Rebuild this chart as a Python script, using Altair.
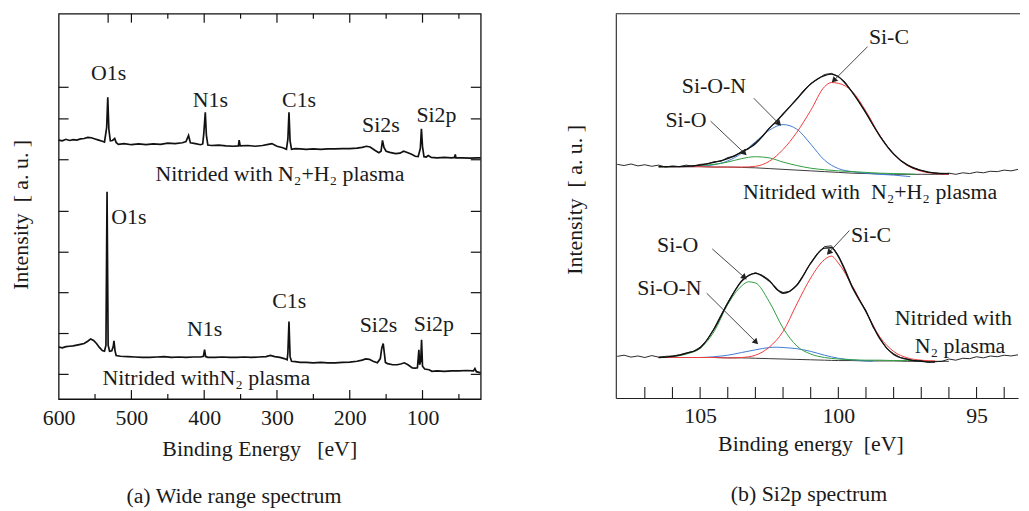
import altair as alt
import pandas as pd

FONT = "Liberation Serif"
TXT = "#1a1a1a"
FS = 22
NB = "\u00a0"

# ---------------- (a) wide range spectrum ----------------
wide_n2h2_e = [600, 595, 590, 585, 580, 575, 570, 565, 560, 555, 550, 545, 540, 537, 534, 532.5, 531, 529,
               526, 523, 521, 518, 510, 500, 490, 480, 470, 460, 450, 440, 430, 425, 421.5, 419, 412, 405,
               402, 400.5, 398.5, 397, 395, 390, 380, 370, 360, 353, 352, 350.5, 340, 330, 320, 312, 307,
               300, 292, 287, 285, 283.5, 282, 280, 275, 268, 260, 250, 240, 230, 220, 210, 200, 190, 183,
               177, 172, 165, 160, 157, 155, 153, 150, 145, 137, 131, 126, 121, 115, 110, 106, 103, 101.5,
               100, 98, 95, 92, 88, 80, 70, 60, 56, 55, 54, 45, 35, 25, 20]
wide_n2h2_i = [67.2, 67.0, 67.4, 67.1, 67.3, 67.2, 67.5, 67.6, 67.9, 67.8, 67.5, 67.2, 66.9, 66.7, 70.5, 78.3, 70.0, 67.0,
               67.1, 67.6, 66.6, 66.1, 66.3, 66.0, 66.2, 66.0, 66.2, 66.1, 66.4, 66.3, 66.5, 66.8, 68.4, 66.5, 66.3, 66.0,
               66.2, 69.0, 74.4, 68.5, 65.9, 65.8, 65.9, 65.7, 65.6, 65.7, 67.2, 65.7, 65.8, 65.6, 65.8, 66.1, 66.3,
               65.6, 65.2, 64.8, 67.5, 74.4, 67.0, 64.8, 65.0, 64.9, 64.8, 64.9, 64.8, 64.9, 64.9, 65.0, 65.0, 65.1, 65.3,
               65.6, 65.4, 64.5, 63.9, 64.3, 67.1, 65.3, 64.3, 64.0, 63.7, 63.8, 64.3, 64.0, 63.5, 63.0, 62.9, 65.0, 70.1,
               65.5, 62.9, 62.8, 63.2, 62.7, 62.6, 62.7, 62.6, 62.7, 63.5, 62.6, 62.6, 62.5, 62.6, 62.6]

wide_n2_e = [600, 595, 590, 585, 580, 575, 570, 565, 560, 556, 552, 548, 544, 540, 537, 535, 533.5, 532,
             530, 527, 525, 524, 522.5, 521, 515, 505, 495, 485, 475, 465, 455, 445, 435, 425, 415, 405,
             401, 399.5, 398, 395, 385, 375, 365, 355, 345, 335, 325, 315, 309, 303, 296, 290, 286, 285,
             283.5, 282, 280, 275, 268, 260, 250, 240, 230, 220, 210, 200, 190, 183, 178, 173, 168, 162,
             158, 156, 154, 152.5, 151, 148, 141, 135, 130, 125, 120, 114, 110, 107, 105, 104, 102.5,
             101.3, 100, 97, 91, 87, 80, 70, 60, 50, 40, 30, 28, 26, 20]
wide_n2_i = [13.5, 13.3, 13.6, 13.7, 13.8, 14.0, 14.2, 14.4, 15.0, 15.6, 15.2, 14.4, 13.4, 12.6, 12.4, 14.0, 53.8, 14.0,
             12.4, 12.5, 13.6, 15.1, 12.5, 11.3, 11.1, 11.0, 10.9, 10.8, 10.8, 10.9, 11.0, 10.8, 10.9, 10.8, 10.9, 10.9,
             11.1, 12.8, 11.0, 10.8, 10.8, 10.9, 10.8, 10.8, 10.9, 10.8, 10.9, 11.0, 11.3, 11.0, 10.8, 10.5, 10.2, 12.0,
             20.1, 11.0, 9.8, 9.7, 9.5, 9.5, 9.4, 9.5, 9.4, 9.4, 9.5, 9.6, 9.8, 10.1, 10.4, 10.3, 9.8, 9.4,
             10.5, 13.2, 14.4, 12.0, 9.5, 9.2, 8.9, 8.9, 9.1, 9.4, 8.9, 8.1, 8.0, 8.1, 12.8, 8.9, 9.8,
             15.4, 8.5, 7.8, 7.6, 7.2, 7.3, 7.2, 7.3, 7.3, 7.4, 7.3, 7.9, 7.1, 6.8]

wide_x_labels = [600, 500, 400, 300, 200, 100]
wide_bottom_major = [500, 400, 300, 200, 100]
wide_bottom_minor = [550, 450, 350, 250, 150, 50]
wide_top_major = [532, 500, 400, 300, 200, 100]
wide_top_minor = [450, 350, 250, 150, 50]
wide_side_ticks = [80.9, 72.7, 62.1, 48.7, 38.1, 27.6, 17.0, 6.4]

wide_lbl_text = ["O1s", "N1s", "C1s", "Si2s", "Si2p", "N1s", "C1s", "Si2s", "Si2p"]
wide_lbl_e = [531.4, 391.4, 269.6, 157.2, 80.9, 399.5, 283.2, 160.5, 84.5]
wide_lbl_v = [84.5, 77.7, 77.5, 71.2, 73.8, 18.2, 25.3, 19.2, 19.4]
wide_note_text = ["Nitrided with N\u2082+H\u2082 plasma", "Nitrided withN\u2082 plasma"]
wide_note_e = [295.9, 397.1]
wide_note_v = [58.3, 5.5]
wide_left_text = ["O1s"]
wide_left_e = [527.7]
wide_left_v = [47.2]

# ---------------- (b) Si2p spectrum ----------------
raw_e = [round(108.0 - 0.25 * k, 2) for k in range(59)]
raw_n2h2 = [61.1, 60.8, 61.2, 60.7, 61.0, 60.6, 60.9, 60.4, 60.7, 60.5, 60.9, 60.6, 61.1, 61.2, 61.8, 61.9,
            62.9, 63.2, 64.5, 65.2, 66.8, 68.3, 70.6, 72.1, 74.4, 76.3, 78.3, 80.5, 82.2, 83.4, 84.6, 84.9,
            84.1, 82.6, 80.0, 77.5, 74.6, 71.4, 68.6, 66.0, 63.9, 62.1, 61.0, 60.1, 59.5, 59.0, 58.9, 58.6,
            58.8, 58.5, 58.9, 58.7, 59.1, 58.9, 59.3, 59.2, 59.6, 59.4, 59.8]
raw_n2 = [10.9, 11.2, 10.7, 11.0, 10.6, 11.1, 10.7, 10.9, 11.0, 11.3, 11.8, 12.2, 13.3, 15.2, 18.1, 21.6,
          25.0, 28.1, 30.8, 32.0, 32.8, 32.1, 30.9, 28.4, 27.6, 27.9, 29.6, 32.3, 35.4, 37.9, 39.6, 39.8,
          37.3, 33.6, 29.2, 25.8, 22.9, 18.6, 15.7, 12.9, 11.6, 10.6, 10.2, 9.7, 9.8, 9.3, 9.5, 9.6,
          10.2, 9.9, 10.4, 10.3, 10.8, 10.5, 11.0, 10.8, 11.2, 11.0, 11.3]

# N2+H2 plasma (upper) fit
top_bg_e = [106.5, 106, 105.5, 105, 104.5, 104, 103.5, 103, 102.5, 102, 101.5, 101, 100.5, 100, 99.5, 99, 98.5, 98, 97.5, 97, 96.5, 96]
top_bg_v = [60.5, 60.5, 60.5, 60.5, 60.4, 60.4, 60.3, 60.2, 60.0, 59.8, 59.6, 59.4, 59.2, 59.0, 58.8, 58.7, 58.6, 58.5, 58.5, 58.5, 58.5, 58.5]
top_sic_e = [106.5, 106, 105.5, 105, 104.5, 104, 103.5, 103, 102.5, 102, 101.5, 101, 100.5, 100.25, 100, 99.5, 99, 98.5, 98, 97.5, 97, 96.5, 96]
top_sic_v = [60.5, 60.5, 60.5, 60.5, 60.4, 60.4, 60.4, 60.6, 61.9, 65.0, 69.5, 75.2, 81.4, 82.5, 82.3, 80.2, 75.0, 68.7, 63.8, 60.8, 59.3, 58.7, 58.5]
top_sion_e = [106.5, 106, 105.5, 105, 104.5, 104, 103.5, 103, 102.5, 102, 101.5, 101, 100.5, 100, 99.5, 99, 98.5, 98, 97.4]
top_sion_v = [60.5, 60.5, 60.5, 60.6, 61.0, 62.0, 64.0, 67.0, 70.0, 71.5, 70.3, 66.4, 62.2, 60.0, 59.2, 58.8, 58.5, 58.3, 57.9]
top_sio_e = [106.5, 106, 105.5, 105, 104.5, 104, 103.5, 103, 102.5, 102, 101.5, 101, 100.5, 100, 99.5, 99, 98.5, 98, 97.5, 97.2]
top_sio_v = [60.4, 60.5, 60.6, 60.8, 61.1, 61.7, 62.6, 63.1, 62.8, 61.7, 60.8, 60.1, 59.7, 59.4, 59.2, 59.0, 58.8, 58.7, 58.6, 58.5]
top_env_e = [106.5, 106, 105.5, 105, 104.5, 104, 103.5, 103, 102.5, 102, 101.5, 101, 100.5, 100.25, 100, 99.5, 99, 98.5, 98, 97.5, 97, 96.5, 96]
top_env_v = [60.5, 60.5, 60.6, 60.9, 61.6, 62.6, 64.3, 66.5, 70.5, 74.2, 78.2, 82.1, 84.3, 84.7, 84.0, 80.0, 74.5, 68.5, 63.8, 60.9, 59.5, 58.8, 58.7]

# N2 plasma (lower) fit
bot_bg_e = [106.5, 106, 105.5, 105, 104.5, 104, 103.5, 103, 102.5, 102, 101.5, 101, 100.5, 100, 99.5, 99, 98.5, 98, 97.5, 97, 96.5, 96]
bot_bg_v = [10.6, 10.6, 10.6, 10.6, 10.6, 10.5, 10.5, 10.4, 10.3, 10.2, 10.1, 10.0, 9.9, 9.8, 9.8, 9.7, 9.7, 9.7, 9.6, 9.6, 9.6, 9.6]
bot_sio_e = [106.5, 106, 105.5, 105, 104.5, 104, 103.5, 103.25, 103, 102.5, 102, 101.5, 101, 100.5, 100, 99.5, 99, 98.5, 98, 97.5, 97.2]
bot_sio_v = [10.6, 10.8, 11.5, 13.0, 17.3, 24.5, 29.3, 30.4, 30.1, 25.2, 18.3, 13.6, 11.5, 10.6, 10.2, 10.0, 9.9, 9.9, 9.8, 9.8, 9.8]
bot_sic_e = [106.5, 106, 105.5, 105, 104.5, 104, 103.5, 103, 102.5, 102, 101.5, 101, 100.5, 100.25, 100, 99.5, 99, 98.5, 98, 97.5, 97, 96.5]
bot_sic_v = [10.6, 10.6, 10.6, 10.6, 10.6, 10.5, 10.6, 11.2, 13.3, 17.4, 24.6, 31.4, 36.2, 37.1, 35.3, 29.4, 22.6, 16.0, 12.2, 10.5, 9.9, 9.7]
bot_sion_e = [106.5, 106, 105.5, 105, 104.5, 104, 103.5, 103, 102.5, 102.25, 102, 101.5, 101, 100.5, 100, 99.5, 99, 98.75]
bot_sion_v = [10.6, 10.6, 10.6, 10.6, 10.8, 11.2, 11.9, 12.6, 13.2, 13.3, 13.2, 12.9, 12.2, 11.2, 10.4, 10.0, 9.7, 9.6]
bot_env_e = [106.5, 106, 105.5, 105, 104.5, 104, 103.5, 103, 102.5, 102, 101.5, 101, 100.5, 100.25, 100, 99.5, 99, 98.5, 98, 97.5, 97, 96.5]
bot_env_v = [10.6, 10.9, 11.7, 13.1, 18.0, 24.8, 30.5, 32.6, 30.6, 27.4, 29.5, 35.2, 39.2, 39.3, 37.0, 29.0, 22.6, 15.5, 11.4, 10.1, 9.6, 9.4]

si_x_labels = [105, 100, 95]
si_ticks = [107, 106, 105, 104, 103, 102, 101, 100, 99, 98, 97, 96, 95, 94]

si_lbl_text = ["Si-C", "Si-O-N", "Si-O", "Nitrided with" + NB + NB + "N\u2082+H\u2082 plasma",
               "Si-O", "Si-O-N", "Si-C", "Nitrided with", "N\u2082 plasma"]
si_lbl_e = [98.17, 104.5, 105.51, 98.85, 105.81, 106.11, 98.82, 95.84, 95.6]
si_lbl_v = [94.5, 81.5, 72.8, 53.8, 39.9, 28.8, 42.5, 20.9, 13.5]

arrow_e1 = [98.94, 103.06, 104.62, 104.56, 104.76, 99.6]
arrow_v1 = [91.9, 78.4, 72.4, 39.0, 27.4, 43.8]
arrow_e2 = [100.14, 102.17, 103.42, 103.42, 103.0, 100.32]
arrow_v2 = [83.2, 71.9, 64.2, 31.7, 14.8, 38.2]
arrow_angle = [225, 135, 134, 132, 135, 223]

# ---------------- build charts ----------------
LW, LH = 425, 388
RW, RH = 405, 387

def df(**cols):
    return pd.DataFrame(cols)

wx_scale = alt.Scale(domain=[600, 20], nice=False, zero=False)
wy_scale = alt.Scale(domain=[0, 100], nice=False, zero=False)
wx_axis = alt.Axis(values=wide_x_labels, format="d", ticks=False, tickSize=0, domain=False, grid=False,
                   labelFont=FONT, labelFontSize=FS, labelColor=TXT, labelPadding=19, labelBaseline="middle",
                   labelFlush=False, labelOverlap=False,
                   title="Binding Energy" + NB * 3 + "[eV]", titleFont=FONT, titleFontSize=FS,
                   titleFontWeight="normal", titleColor=TXT, titleX=202, titleY=50,
                   titleAlign="center", titleBaseline="middle")
wy_axis = alt.Axis(labels=False, ticks=False, tickSize=0, domain=False, grid=False,
                   title="Intensity" + NB * 2 + "[ a. u. ]", titleFont=FONT, titleFontSize=FS,
                   titleFontWeight="normal", titleColor=TXT, titleX=-38, titleY=202, titleAngle=270,
                   titleAlign="center", titleBaseline="middle")

WX = alt.X("E:Q", scale=wx_scale, axis=wx_axis)
WY = alt.Y("v:Q", scale=wy_scale, axis=wy_axis)

wide_lines = alt.layer(
    alt.Chart(df(E=wide_n2h2_e, v=wide_n2h2_i)).mark_line(color="#111", strokeWidth=1.7).encode(x=WX, y=WY),
    alt.Chart(df(E=wide_n2_e, v=wide_n2_i)).mark_line(color="#111", strokeWidth=1.7).encode(x=WX, y=WY),
)

def vticks(vals, y0, y1):
    return alt.Chart(df(E=vals)).mark_rule(color="#111", strokeWidth=1.2).encode(
        x=WX, y=alt.value(y0), y2=alt.value(y1))

def hticks(vals, x0, x1):
    return alt.Chart(df(v=vals)).mark_rule(color="#111", strokeWidth=1.2).encode(
        y=WY, x=alt.value(x0), x2=alt.value(x1))

wide_ticks = alt.layer(
    vticks(wide_bottom_major, LH, LH - 9),
    vticks(wide_bottom_minor, LH, LH - 5),
    vticks(wide_top_major, 0, 9),
    vticks(wide_top_minor, 0, 5),
    hticks(wide_side_ticks, 0, 10),
    hticks(wide_side_ticks, LW - 10, LW),
)

def texts(e, v, t, enc_x, enc_y, align="center"):
    return alt.Chart(df(E=e, v=v, t=t)).mark_text(
        font=FONT, fontSize=FS, align=align, baseline="middle", color=TXT).encode(x=enc_x, y=enc_y, text="t:N")

wide_text = alt.layer(
    texts(wide_lbl_e, wide_lbl_v, wide_lbl_text, WX, WY),
    texts(wide_note_e, wide_note_v, wide_note_text, WX, WY),
    texts(wide_left_e, wide_left_v, wide_left_text, WX, WY, "left"),
)

panel_a = alt.layer(wide_ticks, wide_lines, wide_text).properties(
    width=LW, height=LH,
    view=alt.ViewBackground(stroke="#111", strokeWidth=1.3),
    title=alt.TitleParams("(a) Wide range spectrum", orient="bottom", font=FONT,
                          fontSize=FS, fontWeight="normal", color=TXT, offset=27, dx=-36),
)

# ---- panel b
sx_scale = alt.Scale(domain=[108.05, 93.5], nice=False, zero=False)
sy_scale = alt.Scale(domain=[0, 100.5], nice=False, zero=False)
sx_axis = alt.Axis(values=si_x_labels, format="d", ticks=False, tickSize=0, domain=True, domainColor="#222",
                   domainWidth=1.1, grid=False, labelFont=FONT, labelFontSize=FS, labelColor=TXT,
                   labelPadding=18, labelBaseline="middle", labelFlush=False, labelOverlap=False,
                   title="Binding energy" + NB * 2 + "[eV]", titleFont=FONT, titleFontSize=FS,
                   titleFontWeight="normal", titleColor=TXT, titleX=196, titleY=46,
                   titleAlign="center", titleBaseline="middle")
sy_axis = alt.Axis(labels=False, ticks=False, tickSize=0, domain=True, domainColor="#222", domainWidth=1.1,
                   grid=False, title="Intensity" + NB * 2 + "[ a. u. ]", titleFont=FONT, titleFontSize=FS,
                   titleFontWeight="normal", titleColor=TXT, titleX=-42, titleY=187, titleAngle=270,
                   titleAlign="center", titleBaseline="middle")
SX = alt.X("E:Q", scale=sx_scale, axis=sx_axis)
SY = alt.Y("v:Q", scale=sy_scale, axis=sy_axis)

def sline(e, v, color, width, interp="monotone"):
    return alt.Chart(df(E=e, v=v)).mark_line(color=color, strokeWidth=width, interpolate=interp).encode(x=SX, y=SY)

RED, BLUE, GREEN, BG = "#f03c3c", "#3f7bd6", "#2f9e3f", "#3a3a3a"

si_lines = alt.layer(
    sline(top_bg_e, top_bg_v, BG, 1.0),
    sline(top_sion_e, top_sion_v, BLUE, 1.0),
    sline(top_sio_e, top_sio_v, GREEN, 1.0),
    sline(top_sic_e, top_sic_v, RED, 1.0),
    sline(bot_bg_e, bot_bg_v, BG, 1.0),
    sline(bot_sion_e, bot_sion_v, BLUE, 1.0),
    sline(bot_sio_e, bot_sio_v, GREEN, 1.0),
    sline(bot_sic_e, bot_sic_v, RED, 1.0),
    sline(raw_e, raw_n2h2, "#111", 0.9, "linear"),
    sline(raw_e, raw_n2, "#111", 0.9, "linear"),
    sline(top_env_e, top_env_v, "#111", 1.3),
    sline(bot_env_e, bot_env_v, "#111", 1.3),
)

si_frame = alt.layer(
    alt.Chart(df(E=si_ticks)).mark_rule(color="#222", strokeWidth=1.1).encode(x=SX, y=alt.value(RH), y2=alt.value(RH - 11)),
    alt.Chart(df(E=[108.05])).mark_rule(color="#222", strokeWidth=1.1).encode(x=alt.value(0), x2=alt.value(RW + 2), y=alt.value(0)),
)

arrows = df(E=arrow_e1, v=arrow_v1, E2=arrow_e2, v2=arrow_v2, a=arrow_angle)
si_arrows = alt.layer(
    alt.Chart(arrows).mark_rule(color="#333", strokeWidth=0.9).encode(x=SX, y=SY, x2="E2:Q", y2="v2:Q"),
    alt.Chart(arrows).mark_point(shape="triangle", filled=True, color="#222", size=45, opacity=1).encode(
        x=alt.X("E2:Q", scale=sx_scale, axis=sx_axis), y=alt.Y("v2:Q", scale=sy_scale, axis=sy_axis),
        angle=alt.Angle("a:Q", scale=None)),
)

si_text = texts(si_lbl_e, si_lbl_v, si_lbl_text, SX, SY)

panel_b = alt.layer(si_frame, si_lines, si_arrows, si_text).properties(
    width=RW, height=RH,
    view=alt.ViewBackground(stroke=None),
    title=alt.TitleParams("(b) Si2p spectrum", orient="bottom", font=FONT,
                          fontSize=FS, fontWeight="normal", color=TXT, offset=30, dx=-8),
)

chart = alt.hconcat(panel_a, panel_b, spacing=78).properties(
    padding={"left": 1, "top": 2, "right": 0, "bottom": 0}
).configure_view(stroke=None)

chart.save("out.html", embed_options={"renderer": "svg", "actions": False})
